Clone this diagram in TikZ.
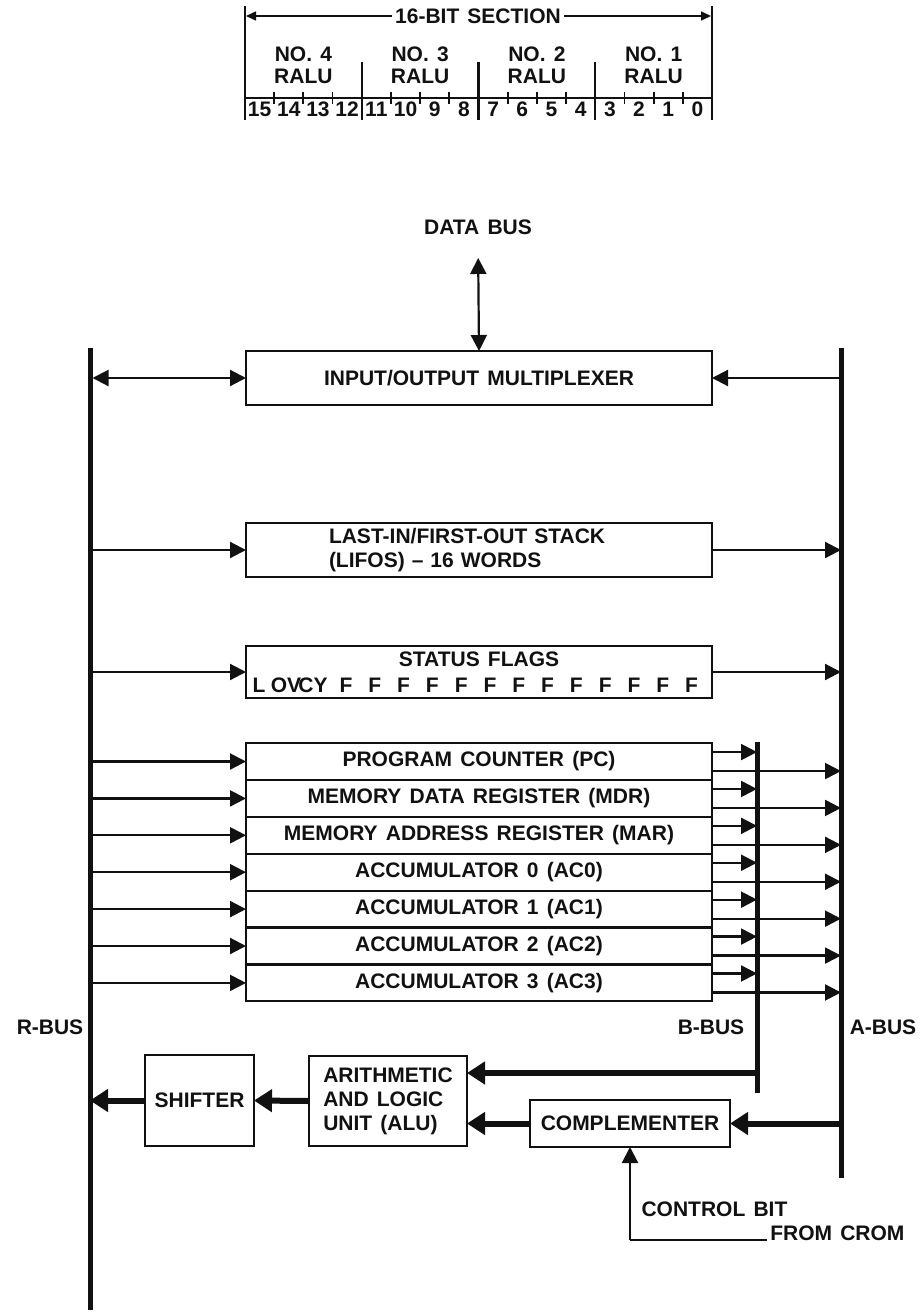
\documentclass[tikz,border=0pt]{standalone}
\usepackage{fontspec}
\setmainfont{Liberation Sans}[WordSpace=1.4]
\usetikzlibrary{arrows.meta,positioning,calc}
\definecolor{ink}{HTML}{111111}
\tikzset{
  every node/.style={font=\fontsize{21}{24}\selectfont\bfseries,text=ink},
  blk/.style={draw=ink,line width=2.2pt,minimum width=466pt,minimum height=54pt,align=center,inner sep=0pt,outer sep=0pt},
  reg/.style={blk,minimum height=36.9pt},
  unit/.style={draw=ink,line width=2.2pt,align=left,inner sep=0pt,outer sep=0pt},
  bus/.style={draw=ink,line width=5pt},
  rule/.style={draw=ink,line width=2.2pt},
  arr/.style={-{Triangle[length=16pt,width=16pt]},draw=ink,line width=2.2pt},
  darr/.style={{Triangle[length=16pt,width=16pt]}-{Triangle[length=16pt,width=16pt]},draw=ink,line width=2.2pt},
  smallarr/.style={-{Triangle[length=10pt,width=9pt]},draw=ink,line width=1.6pt},
  fat/.style={-{Triangle[length=18pt,width=22pt]},draw=ink,line width=6pt},
}

\begin{document}
\begin{tikzpicture}[x=1pt,y=-1pt]
  \useasboundingbox (0,0) rectangle (923,1315);

  % 16-bit section header
  \draw[rule,line width=2.6pt] (245,6) -- (245,120);
  \draw[rule,line width=2.6pt] (712,6) -- (712,120);
  \node[fill=white,inner sep=3pt] (sect) at (478,16) {16-BIT SECTION};
  \draw[smallarr] (sect.west) -- (sect.west -| 246,0);
  \draw[smallarr] (sect.east) -- (sect.east -| 711,0);
  \draw[rule] (245,98) -- (712,98);
  \foreach \i in {1,...,15}{
    \pgfmathsetmacro{\bx}{245+\i*29.1875}
    \pgfmathtruncatemacro{\mj}{mod(\i,4)}
    \ifnum\mj=0
      \draw[rule] (\bx,62) -- (\bx,120);
    \else
      \draw[rule,line width=1.8pt] (\bx,92) -- (\bx,104);
    \fi
  }
  \foreach \i in {0,...,15}{
    \pgfmathtruncatemacro{\bn}{15-\i}
    \node (bit\bn) at ({245+(\i+0.5)*29.1875},109) {\bn};
  }
  \foreach \k in {0,...,3}{
    \pgfmathtruncatemacro{\rn}{4-\k}
    \node[align=center,font=\fontsize{21}{22}\selectfont\bfseries] (ralu\rn) at ({245+(\k+0.5)*116.75},65) {NO.~\rn\\RALU};
  }

  % buses
  \coordinate (rtop) at (90,348);  \coordinate (rbot) at (90,1310);
  \coordinate (atop) at (841,348); \coordinate (abot) at (841,1178);
  \coordinate (btop) at (757,742); \coordinate (bbot) at (757,1093);
  \draw[bus] (rtop) -- (rbot);
  \draw[bus] (atop) -- (abot);
  \draw[bus] (btop) -- (bbot);
  \node (rlbl) at (50,1027) {R-BUS};
  \node (blbl) at (711,1027) {B-BUS};
  \node (albl) at (883,1027) {A-BUS};

  % upper blocks
  \node (dbus) at (478,227) {DATA BUS};
  \node[blk] (io) at (479,378) {INPUT/OUTPUT MULTIPLEXER};
  \draw[darr,shorten <=20pt] (dbus.south) -- (io.north);
  \draw[darr,shorten <=2.5pt] (io.west -| rtop) -- (io.west);
  \draw[arr] (io.east -| atop) -- (io.east);

  \node[blk,align=left,text width=300pt] (lifo) at (479,550) {LAST-IN/FIRST-OUT STACK\\(LIFOS) \textendash\ 16 WORDS};
  \draw[arr] (lifo.west -| rtop) -- (lifo.west);
  \draw[arr] (lifo.east) -- (lifo.east -| atop);

  \node[blk,minimum height=52pt] (flags) at (479,672) {};
  \node[below=2pt of flags.north] (ftitle) {STATUS FLAGS};
  \node (fl) at (259,685) {L};
  \node (fov) at (286,685) {OV};
  \node (fcy) at (313,685) {CY};
  \foreach \j in {0,...,12}{
    \node (ff\j) at ({346+\j*28.8},685) {F};
  }
  \draw[arr] (flags.west -| rtop) -- (flags.west);
  \draw[arr] (flags.east) -- (flags.east -| atop);

  % register file
  \node[reg] (pc) at (479,761.5) {PROGRAM COUNTER (PC)};
  \node[reg,below=0pt of pc] (mdr) {MEMORY DATA REGISTER (MDR)};
  \node[reg,below=0pt of mdr] (mar) {MEMORY ADDRESS REGISTER (MAR)};
  \node[reg,below=0pt of mar] (ac0) {ACCUMULATOR 0 (AC0)};
  \node[reg,below=0pt of ac0] (ac1) {ACCUMULATOR 1 (AC1)};
  \node[reg,below=0pt of ac1] (ac2) {ACCUMULATOR 2 (AC2)};
  \node[reg,below=0pt of ac2] (ac3) {ACCUMULATOR 3 (AC3)};
  \foreach \r in {pc,mdr,mar,ac0,ac1,ac2,ac3}{
    \draw[arr] (\r.west -| rtop) -- (\r.west);
    \path ($(\r.north east)+(0,9)$) coordinate (bo) ($(\r.north east)+(0,28)$) coordinate (ao);
    \draw[arr] (bo) -- (bo -| btop);
    \draw[arr] (ao) -- (ao -| atop);
  }

  % ALU path
  \node[unit,align=center,minimum width=109pt,minimum height=91pt] (shift) at (199.5,1100.5) {SHIFTER};
  \node[unit,minimum width=158pt,minimum height=90pt] (alu) at (388,1101) {ARITHMETIC\\AND LOGIC\\UNIT (ALU)};
  \node[unit,align=center,minimum width=200pt,minimum height=47pt] (comp) at (630,1123.5) {COMPLEMENTER};
  \path ($(alu.north east)+(0,17)$) coordinate (bin);
  \draw[fat] (bin -| btop) -- (bin);
  \draw[fat] (comp.east -| atop) -- (comp.east);
  \draw[fat] (comp.west) -- (comp.west -| alu.east);
  \draw[fat] (alu.west) -- (shift.east);
  \draw[fat] (shift.west) -- (shift.west -| rtop);

  % control bit
  \coordinate (ctl) at (630,1240);
  \node[anchor=west] (cbit) at (638,1209) {CONTROL BIT};
  \node[anchor=east] (crom) at (908,1233) {FROM CROM};
  \draw[arr] (ctl) -- (comp.south);
  \draw[rule] (ctl) -- (ctl -| crom.west);
\end{tikzpicture}
\end{document}
